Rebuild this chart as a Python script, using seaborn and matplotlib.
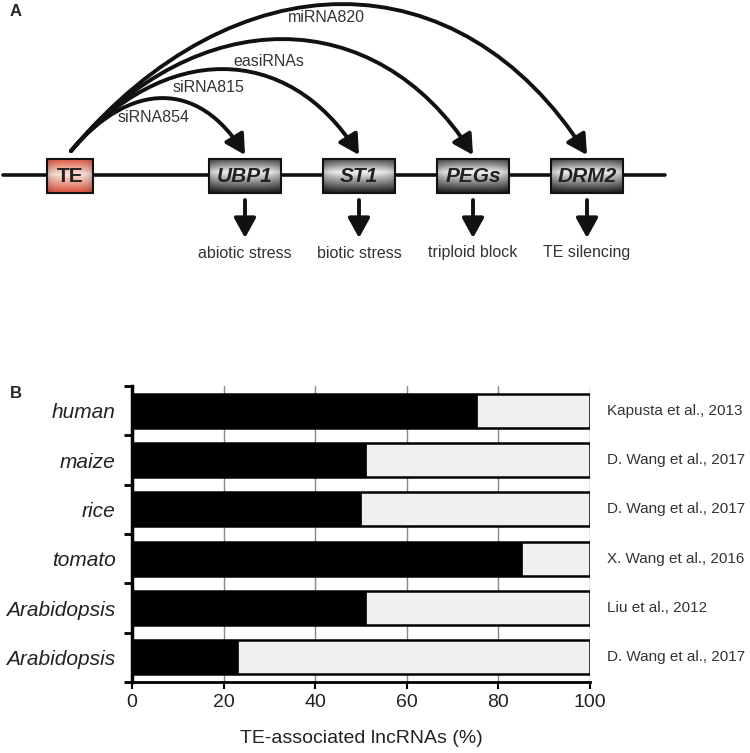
import numpy as np
import pandas as pd
import matplotlib
matplotlib.use("Agg")
import matplotlib.pyplot as plt
import matplotlib.colors as mcolors
from matplotlib.patches import Rectangle, FancyArrowPatch
from matplotlib.path import Path
import seaborn as sns

# -------------------
# Data
# -------------------
species = ["human", "maize", "rice", "tomato", "Arabidopsis", "Arabidopsis"]
te_pct = [75.3, 51.2, 50.1, 85.2, 51.2, 23.2]
refs = ["Kapusta et al., 2013", "D. Wang et al., 2017", "D. Wang et al., 2017",
        "X. Wang et al., 2016", "Liu et al., 2012", "D. Wang et al., 2017"]

genes = ["UBP1", "ST1", "PEGs", "DRM2"]
small_rnas = ["siRNA854", "siRNA815", "easiRNAs", "miRNA820"]
processes = ["abiotic stress", "biotic stress", "triploid block", "TE silencing"]

# -------------------
# Layout of the schematic (pixel coords, y down)
# -------------------
gene_x0 = [209, 323, 437, 551]
box_w, box_y0, box_h = 72, 159, 34
te_box = (47, 93)
arc_start = (71, 151)
arc_end_y = 155
arc_peak_y = [98, 69, 39, 4]
rna_label_xy = [(154, 117), (209, 87), (269, 61), (326, 17)]

sns.set_theme(style="white")
plt.rcParams["font.family"] = ["Liberation Sans", "DejaVu Sans"]

fig = plt.figure(figsize=(7.5, 7.53), dpi=100)

# -------------------
# Panel A
# -------------------
axa = fig.add_axes([0, 1 - 265 / 753, 1, 265 / 753])
axa.set_xlim(0, 750)
axa.set_ylim(265, 0)
axa.axis("off")

gray_cmap = mcolors.LinearSegmentedColormap.from_list(
    "gbox", [(0, "#505050"), (0.38, "#f4f4f4"), (1, "#1c1c1c")])
red_cmap = mcolors.LinearSegmentedColormap.from_list(
    "tebox", [(0, "#dc5c42"), (0.45, "#fde4dc"), (1, "#d9503a")])


def gradient_box(ax, x0, x1, cmap, label, style):
    vert = cmap(np.linspace(0, 1, 64))[:, :3]
    hx = np.linspace(-1, 1, 96)
    shade = 1 - 0.22 * np.abs(hx) ** 4
    img = vert[:, None, :] * shade[None, :, None]
    ax.imshow(img, extent=[x0, x1, box_y0 + box_h, box_y0],
              aspect="auto", interpolation="bilinear", zorder=2)
    ax.add_patch(Rectangle((x0, box_y0), x1 - x0, box_h, fill=False,
                           ec="#111111", lw=1.5, zorder=3))
    ax.text((x0 + x1) / 2, box_y0 + box_h / 2, label, ha="center", va="center",
            fontsize=15, fontweight="bold", style=style, color="#222222", zorder=4)


axa.plot([3, 665], [175, 175], color="#111111", lw=2.6, zorder=1)
gradient_box(axa, te_box[0], te_box[1], red_cmap, "TE", "normal")

head = "-|>,head_length=0.6,head_width=0.33"
a0, a1 = np.radians(50), np.radians(57)
for i, g in enumerate(genes):
    x0 = gene_x0[i]
    cx = x0 + box_w / 2
    gradient_box(axa, x0, x0 + box_w, gray_cmap, g, "italic")
    # curved arrow from TE (cubic bezier)
    hc = (arc_start[1] - arc_peak_y[i]) / 0.75
    p0 = arc_start
    p1 = (p0[0] + hc / np.tan(a0), p0[1] - hc)
    p3 = (cx, arc_end_y)
    p2 = (cx - hc / np.tan(a1), p0[1] - hc)
    path = Path([p0, p1, p2, p3], [Path.MOVETO, Path.CURVE4, Path.CURVE4, Path.CURVE4])
    axa.add_patch(FancyArrowPatch(path=path, arrowstyle=head, mutation_scale=20,
                                  lw=2.8, color="#111111", zorder=5))
    lx, ly = rna_label_xy[i]
    axa.text(lx, ly, small_rnas[i], ha="center", va="center", fontsize=11.5, color="#333333")
    # down arrow to process
    axa.annotate("", xy=(cx, 238), xytext=(cx, 200),
                 arrowprops=dict(arrowstyle=head, lw=2.8, color="#111111",
                                 shrinkA=0, shrinkB=0, mutation_scale=20))
    axa.text(cx, 253, processes[i], ha="center", va="center", fontsize=11.5, color="#333333")

fig.text(10 / 750, 1 - 12 / 753, "A", fontsize=12, fontweight="bold", va="center")

# -------------------
# Panel B
# -------------------
axb = fig.add_axes([132 / 750, 1 - 682 / 753, 458 / 750, 296 / 753])
df = pd.DataFrame({"row": range(len(species)), "te": te_pct, "total": [100] * len(species)})

sns.barplot(data=df, x="total", y="row", orient="h", color="#f0f0f0", saturation=1,
            edgecolor="black", linewidth=1.8, width=0.69, ax=axb)
sns.barplot(data=df, x="te", y="row", orient="h", color="black", saturation=1,
            edgecolor="black", linewidth=0.5, width=0.69, ax=axb)

axb.set_xlim(0, 100)
axb.set_ylim(5.5, -0.5)
axb.set_xticks(range(0, 101, 20))
axb.set_yticks(range(len(species)))
axb.set_yticklabels(species, style="italic", fontsize=15, color="#222222")
axb.set_yticks(np.arange(-0.5, len(species), 1), minor=True)
axb.tick_params(axis="y", which="major", length=0, pad=12)
axb.tick_params(axis="y", which="minor", length=6, width=2, direction="out",
                color="black", left=True)
axb.tick_params(axis="x", which="major", length=5, width=1.5, direction="out",
                color="black", bottom=True, labelsize=14, labelcolor="#222222")
axb.set_ylabel("")
axb.set_xlabel("TE-associated lncRNAs (%)", fontsize=14, color="#222222", labelpad=14)

axb.grid(axis="x", color="#888888", lw=1)
axb.grid(axis="y", visible=False)
axb.set_axisbelow(True)
for s in ["top", "right"]:
    axb.spines[s].set_visible(False)
axb.spines["left"].set_linewidth(2.5)
axb.spines["left"].set_color("black")
axb.spines["bottom"].set_linewidth(2)
axb.spines["bottom"].set_color("black")

for i, r in enumerate(refs):
    axb.text(103.8, i, r, va="center", ha="left", fontsize=11, color="#333333", clip_on=False)

fig.text(10 / 750, 1 - 393 / 753, "B", fontsize=12, fontweight="bold", va="center")

fig.savefig("out.png", dpi=100)
